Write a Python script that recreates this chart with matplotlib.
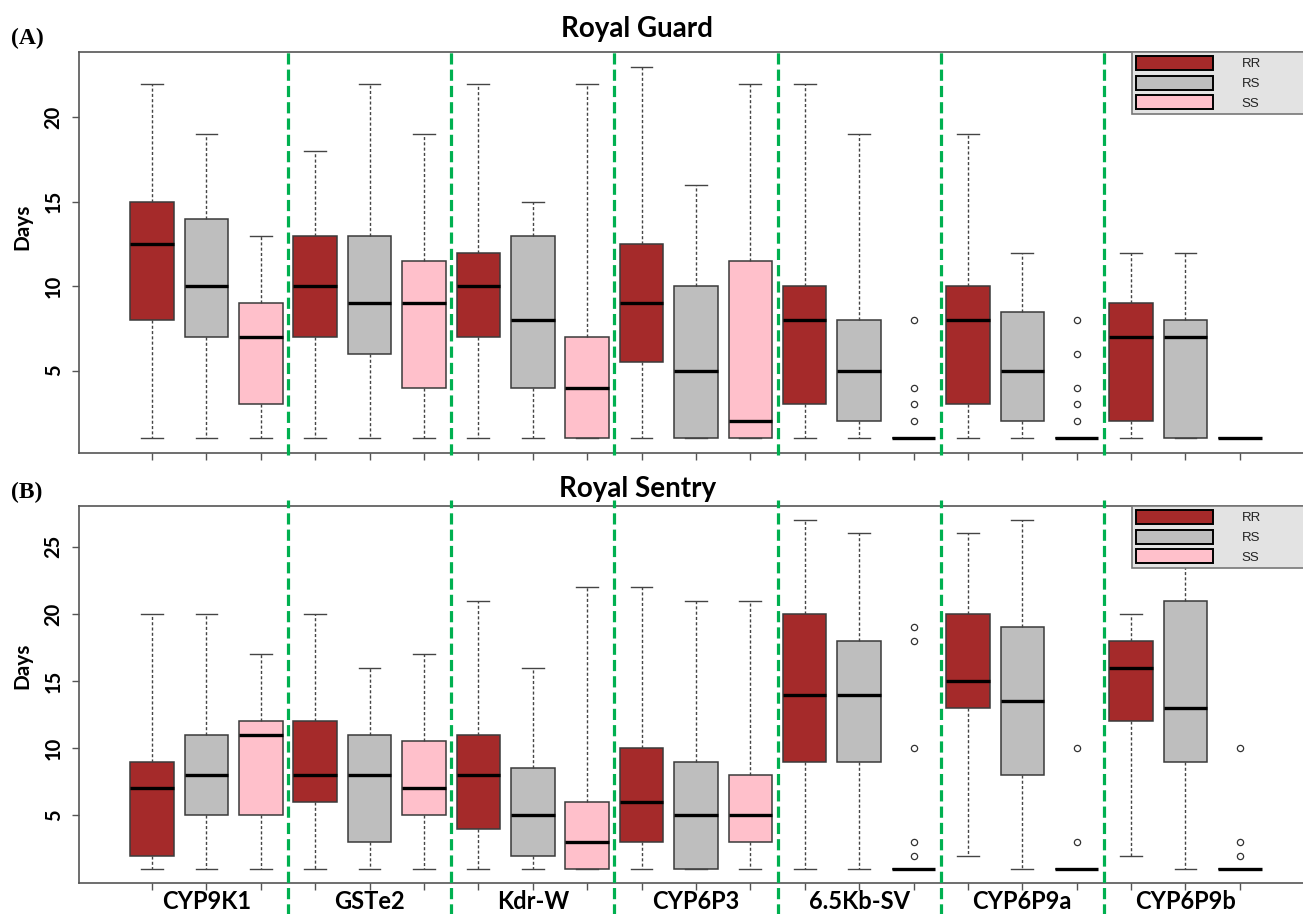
import matplotlib
matplotlib.use("Agg")
import matplotlib.pyplot as plt
from matplotlib.patches import Patch

# ---- data ----
genes = ["CYP9K1", "GSTe2", "Kdr-W", "CYP6P3", "6.5Kb-SV", "CYP6P9a", "CYP6P9b"]
genotypes = ["RR", "RS", "SS"]
geno_colors = ["#A52A2A", "#BEBEBE", "#FFC0CB"]

# Royal Guard, order RR, RS, SS within each gene
guard_whishi = [22, 19, 13, 18, 22, 19, 22, 15, 22, 23, 16, 22, 22, 19, 1, 19, 12, 1, 12, 12, 1]
guard_q3 = [15, 14, 9, 13, 13, 11.5, 12, 13, 7, 12.5, 10, 11.5, 10, 8, 1, 10, 8.5, 1, 9, 8, 1]
guard_med = [12.5, 10, 7, 10, 9, 9, 10, 8, 4, 9, 5, 2, 8, 5, 1, 8, 5, 1, 7, 7, 1]
guard_q1 = [8, 7, 3, 7, 6, 4, 7, 4, 1, 5.5, 1, 1, 3, 2, 1, 3, 2, 1, 2, 1, 1]
guard_whislo = [1] * 21
guard_fliers = {14: [8, 4, 3, 2], 17: [8, 6, 4, 3, 2]}

# Royal Sentry
sentry_whishi = [20, 20, 17, 20, 16, 17, 21, 16, 22, 22, 21, 21, 27, 26, 1, 26, 27, 1, 20, 25, 1]
sentry_q3 = [9, 11, 12, 12, 11, 10.5, 11, 8.5, 6, 10, 9, 8, 20, 18, 1, 20, 19, 1, 18, 21, 1]
sentry_med = [7, 8, 11, 8, 8, 7, 8, 5, 3, 6, 5, 5, 14, 14, 1, 15, 13.5, 1, 16, 13, 1]
sentry_q1 = [2, 5, 5, 6, 3, 5, 4, 2, 1, 3, 1, 3, 9, 9, 1, 13, 8, 1, 12, 9, 1]
sentry_whislo = [1, 1, 1, 1, 1, 1, 1, 1, 1, 1, 1, 1, 1, 1, 1, 2, 1, 1, 2, 1, 1]
sentry_fliers = {14: [19, 18, 10, 3, 2], 17: [10, 3], 20: [10, 3, 2]}

W, H = 1303, 914
fig = plt.figure(figsize=(W / 100, H / 100), dpi=100)

sans = ["Lato", "DejaVu Sans"]
green = "#00B050"
frame_col = "#555555"


def make_stats(whislo, q1, med, q3, whishi, fliers):
    stats = []
    for i in range(len(med)):
        stats.append(dict(whislo=whislo[i], q1=q1[i], med=med[i], q3=q3[i],
                          whishi=whishi[i], fliers=fliers.get(i, [])))
    return stats


def panel(rect, stats, ylim, yticks, show_names):
    ax = fig.add_axes(rect)
    pos = list(range(1, len(stats) + 1))
    bp = ax.bxp(stats, positions=pos, widths=0.8, patch_artist=True, manage_ticks=False,
                boxprops=dict(edgecolor="#3a3a3a", linewidth=1.1),
                whiskerprops=dict(color="#444444", linewidth=1.0, linestyle=(0, (2.2, 1.6))),
                capprops=dict(color="#444444", linewidth=1.0),
                medianprops=dict(color="black", linewidth=2.4),
                flierprops=dict(marker="o", markerfacecolor="none", markeredgecolor="#333333",
                                markersize=4.5, markeredgewidth=0.9))
    for i, b in enumerate(bp["boxes"]):
        b.set_facecolor(geno_colors[i % 3])

    ax.set_xlim(-0.342, 22.28)
    ax.set_ylim(*ylim)
    ax.set_yticks(yticks)
    ax.set_yticklabels([str(t) for t in yticks], rotation=90, va="center",
                       fontsize=14.5, fontweight="bold", family=sans)
    ax.set_xticks(pos)
    ax.set_xticklabels([])
    ax.tick_params(axis="both", colors=frame_col, length=5, width=1.0, labelcolor="black")
    ax.tick_params(axis="y", pad=6)
    if show_names:
        for g, name in enumerate(genes):
            ax.text(3 * g + 2, -0.05, name, transform=ax.get_xaxis_transform(),
                    ha="center", va="center", fontsize=17, fontweight="bold", family=sans)
    for s in ax.spines.values():
        s.set_color(frame_col)
        s.set_linewidth(1.2)
    return ax


ax1 = panel([79 / W, 1 - 453 / H, 1.005 - 79 / W, 401 / H],
            make_stats(guard_whislo, guard_q1, guard_med, guard_q3, guard_whishi, guard_fliers),
            (0.12, 23.88), [5, 10, 15, 20], False)
ax2 = panel([79 / W, 1 - 883 / H, 1.005 - 79 / W, 377 / H],
            make_stats(sentry_whislo, sentry_q1, sentry_med, sentry_q3, sentry_whishi, sentry_fliers),
            (-0.04, 28.04), [5, 10, 15, 20, 25], True)

# green separators between genes
for ax, lo, hi in [(ax1, -0.005, 1.01), (ax2, -0.085, 1.016)]:
    for g in range(1, len(genes)):
        ax.axvline(3 * g + 0.5, ymin=lo, ymax=hi, color=green, linewidth=2.3,
                   linestyle=(0, (3.5, 1.6)), clip_on=False, zorder=5)

# legends
handles = [Patch(facecolor=c, edgecolor="black", linewidth=1.4) for c in geno_colors]
for ax in (ax1, ax2):
    leg = ax.legend(handles, genotypes, loc="upper left", mode="expand",
                    bbox_to_anchor=(0.856, 0, 0.2, 1.0), borderaxespad=0,
                    handlelength=5.8, handleheight=1.25, labelspacing=0.4,
                    handletextpad=2.2, borderpad=0.3, fancybox=False, framealpha=1,
                    prop={"family": "Liberation Sans", "size": 9.5})
    leg.get_frame().set_facecolor("#E3E3E3")
    leg.get_frame().set_edgecolor("#777777")
    leg.get_frame().set_linewidth(1.2)
    for t in leg.get_texts():
        t.set_color("#222222")
    leg.set_zorder(10)

# titles, panel letters, axis labels
fig.text(637 / W, 1 - 37 / H, "Royal Guard", ha="center", va="baseline",
         fontsize=20, fontweight="bold", family=sans)
fig.text(638 / W, 1 - 497 / H, "Royal Sentry", ha="center", va="baseline",
         fontsize=20, fontweight="bold", family=sans)
fig.text(11 / W, 1 - 38 / H, "(A)", ha="left", va="center", fontsize=17,
         fontweight="bold", family="Liberation Serif")
fig.text(11 / W, 1 - 492 / H, "(B)", ha="left", va="center", fontsize=17,
         fontweight="bold", family="Liberation Serif")
fig.text(22 / W, 1 - 227 / H, "Days", rotation=90, ha="center", va="center",
         fontsize=15, fontweight="bold", family=sans)
fig.text(22 / W, 1 - 666 / H, "Days", rotation=90, ha="center", va="center",
         fontsize=15, fontweight="bold", family=sans)

fig.savefig("out.png", dpi=100)
